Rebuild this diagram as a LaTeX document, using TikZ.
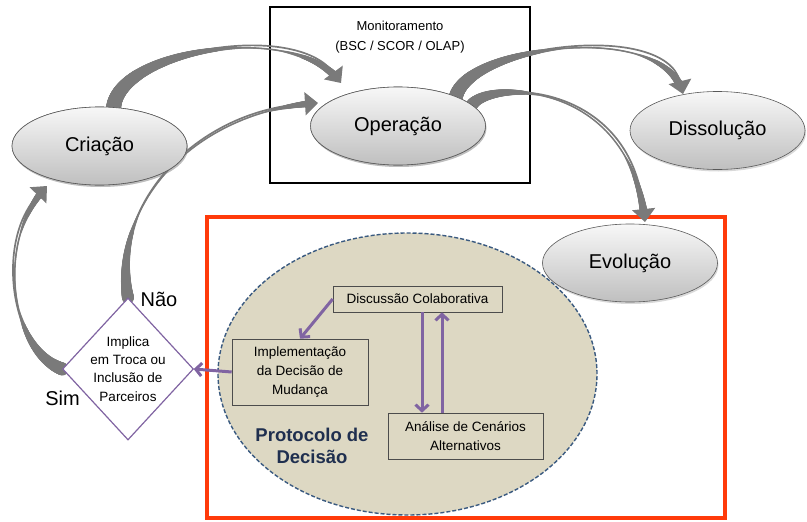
\documentclass[tikz,border=0pt]{standalone}
\usepackage{fontspec}
\setmainfont{Liberation Sans}
\usetikzlibrary{shapes.geometric,arrows.meta,shadows,decorations.markings}
\definecolor{arrowgray}{HTML}{7A7A7A}
\definecolor{purp}{HTML}{8064A2}
\definecolor{beigefill}{HTML}{DDD8C3}
\definecolor{redframe}{HTML}{FF3A0A}
\definecolor{navytext}{HTML}{1F2F4F}
\definecolor{dashblue}{HTML}{3A5A80}
\tikzset{
  stage/.style={ellipse, draw=gray!70!black, line width=0.6pt,
    top color=gray!6, bottom color=gray!50,
    minimum width=175pt, minimum height=78pt, inner sep=0pt,
    font=\fontsize{20}{24}\selectfont,
    drop shadow={shadow xshift=1pt, shadow yshift=-2pt, opacity=0.3, fill=gray}},
  % tapered body: start half-width / start taper length / thin half-width / end half-width / end taper length
  taper/.style args={#1/#2/#3/#4/#5}{decoration={markings,
    mark=between positions 0 and 1 step 0.5pt with {%
      \pgfmathsetmacro\swd{\pgfkeysvalueof{/pgf/decoration/mark info/distance from start}}%
      \pgfmathsetmacro\swlen{\pgfdecoratedpathlength}%
      \pgfmathsetmacro\swr{max(#3, #1+(#3-#1)*\swd/#2, min(#4, #3+(#4-#3)*(\swd-\swlen+12+#5)/#5))}%
      \pgfmathtruncatemacro\swok{(\swd < \swlen-11) ? 1 : 0}%
      \ifnum\swok=1 \fill[arrowgray] (0,0) circle[radius=\swr pt];\fi
    }}, decorate},
  swhead/.style={draw=arrowgray, line width=1.7pt,
    -{Triangle[width=23pt 0,length=13pt 0]}},
  stepbox/.style={rectangle, draw=gray!60!black, line width=0.6pt, fill=beigefill,
    inner sep=0pt, align=center, font=\fontsize{13.5}{19}\selectfont},
  parrow/.style={draw=purp, line width=3pt, -{Straight Barb[length=6pt 0,width=13pt 0]}},
  bigword/.style={font=\fontsize{20}{24}\selectfont}
}
\begin{document}
\begin{tikzpicture}[x=1pt,y=-1pt]
\useasboundingbox (0,0) rectangle (807,522);

% monitoring frame around the operation stage
\node[draw=black, line width=1.5pt, minimum width=260pt, minimum height=176pt, inner sep=0pt] (mon) at (400,95) {};
\node[align=center, font=\fontsize{13}{20}\selectfont] (montxt) at (400,37) {Monitoramento\\(BSC / SCOR / OLAP)};

% decision-protocol frame and its dashed region
\node[draw=redframe, line width=4.5pt, minimum width=518pt, minimum height=301pt, inner sep=0pt] (frame) at (466,367.5) {};
\node[ellipse, draw=dashblue, line width=1.4pt, dash pattern=on 4pt off 2pt, fill=beigefill,
      minimum width=379pt, minimum height=282pt, inner sep=0pt] (proto) at (407.5,374) {};

% stage nodes are placed first so the arrows can start at their anchors
\node[stage] (cria) at (99.5,146) {Criação};
\node[stage] (oper) at (398,126) {Operação};
\node[diamond, minimum width=131pt, minimum height=142pt, inner sep=0pt] (dia) at (128,369) {};

% swoosh arrows between the stages
\coordinate (tipA) at (341,83);
\coordinate (tipB) at (318,103);
\coordinate (tipC) at (47,186);
\coordinate (tipD) at (683,94);
\coordinate (tipE) at (645,222);
\path[taper=7.5/150/0.85/4/60] (cria.70) .. controls (120,50) and (295,20) .. (tipA);
\draw[swhead] (cria.70) .. controls (120,50) and (295,20) .. (tipA);
\path[taper=6/85/0.85/3.5/45] (dia.north) .. controls (110,200) and (200,110) .. (tipB);
\draw[swhead] (dia.north) .. controls (110,200) and (200,110) .. (tipB);
\path[taper=6.5/75/0.85/3.5/45] (dia.west) .. controls (10,350) and (-5,240) .. (tipC);
\draw[swhead] (dia.west) .. controls (10,350) and (-5,240) .. (tipC);
\path[taper=7/120/0.85/4/55] (oper.27) .. controls (470,45) and (665,20) .. (tipD);
\draw[swhead] (oper.27) .. controls (470,45) and (665,20) .. (tipD);
\path[taper=6/70/0.85/4/60] (oper.16) .. controls (490,80) and (630,80) .. (tipE);
\draw[swhead] (oper.16) .. controls (490,80) and (630,80) .. (tipE);

% stages drawn over the arrow bases
\node[stage] at (cria) {Criação};
\node[stage] at (oper) {Operação};
\node[stage] (diss) at (717.5,130.5) {Dissolução};
\node[stage] (evol) at (630,263) {Evolução};

% decision diamond
\node[diamond, draw=purp, line width=1.2pt, fill=white, minimum width=131pt, minimum height=142pt, inner sep=0pt] at (dia) {};
\node[align=center, font=\fontsize{13.5}{18.3}\selectfont] (diatxt) at (dia.center) {Implica\\em Troca ou\\Inclusão de\\Parceiros};
\node[bigword] (nao) at (159,299) {Não};
\node[bigword] (sim) at (62.5,398) {Sim};

% protocol steps
\node[stepbox, minimum width=169pt, minimum height=26pt] (disc) at (417.5,299) {Discussão Colaborativa};
\node[stepbox, minimum width=136pt, minimum height=66pt] (impl) at (300,372) {Implementação\\da Decisão de\\Mudança};
\node[stepbox, minimum width=155pt, minimum height=46pt] (anal) at (465.5,436) {Análise de Cenários\\Alternativos};
\node[align=center, text=navytext, font=\fontsize{18.5}{22}\selectfont\bfseries] (prot) at (312,446) {Protocolo de\\Decisão};

\draw[parrow] (disc.west) -- (impl.north);
\draw[parrow] (impl.west) -- (dia.east);
\draw[parrow] ([xshift=4.5pt]disc.south) -- ([xshift=4.5pt]disc.south |- anal.north);
\draw[parrow] ([xshift=24.5pt]disc.south |- anal.north) -- ([xshift=24.5pt]disc.south);
\end{tikzpicture}
\end{document}
